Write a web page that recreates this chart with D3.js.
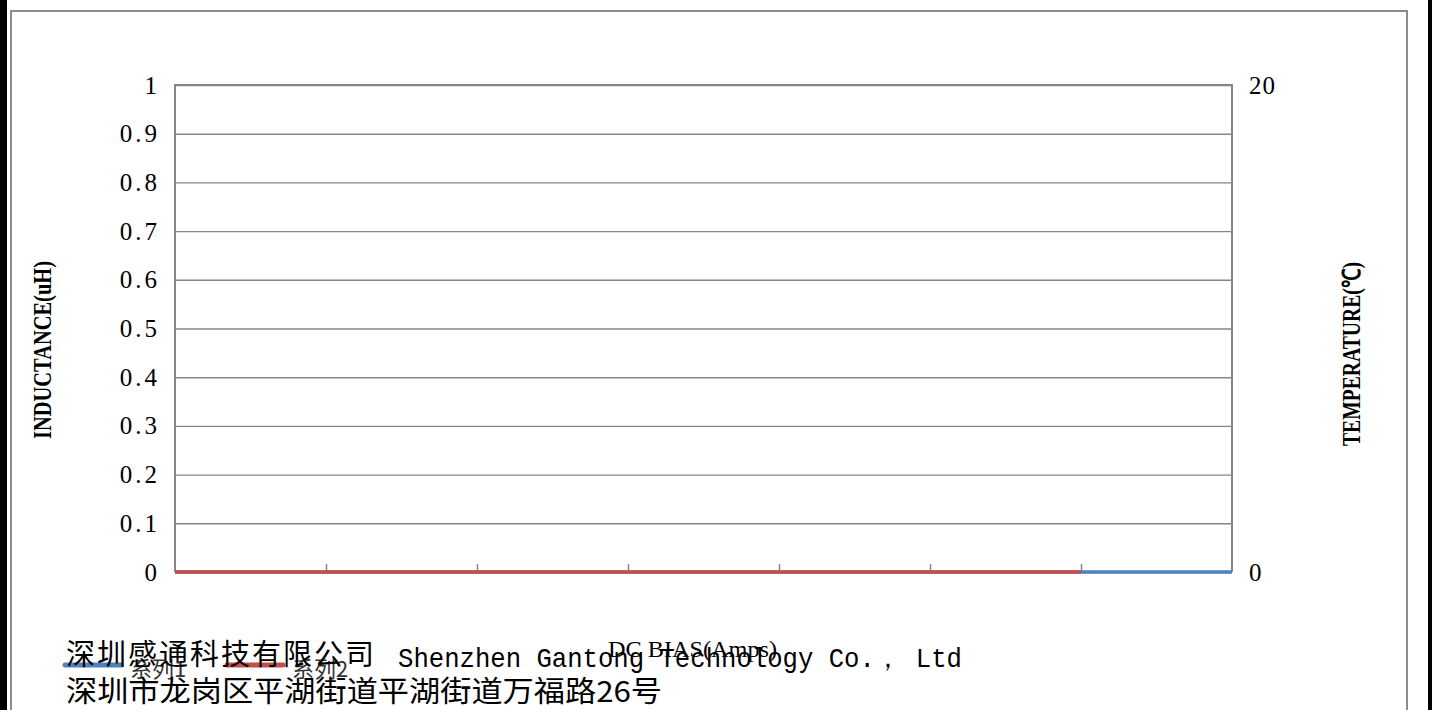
<!DOCTYPE html>
<html>
<head>
<meta charset="utf-8">
<script src="https://cdn.jsdelivr.net/npm/d3@7"></script>
<style>
  body { margin: 0; background: #fff; }
  svg { display: block; }
</style>
</head>
<body>
<div id="chart"></div>
<script>
var svgWidth = 1432;
var svgHeight = 710;

// data
var xCategories = [0, 1, 2, 3, 4, 5, 6, 7];
var series1Temp = [0, 0, 0, 0, 0, 0, 0, 0];      // 系列1, right axis (°C)
var series2Induct = [0, 0, 0, 0, 0, 0, 0];       // 系列2, left axis (uH)
var leftTicks = [0, 0.1, 0.2, 0.3, 0.4, 0.5, 0.6, 0.7, 0.8, 0.9, 1];
var rightTicks = [0, 20];
var seriesNames = ["系列1", "系列2"];

var plot = { left: 175, right: 1232, top: 85, bottom: 572 };

var svg = d3.select("#chart")
  .append("svg")
  .attr("width", svgWidth)
  .attr("height", svgHeight);

// page frame bits
svg.append("rect").attr("x", 0).attr("y", 0).attr("width", 7).attr("height", svgHeight).attr("fill", "#000");
svg.append("rect").attr("x", 1428).attr("y", 0).attr("width", 4).attr("height", svgHeight).attr("fill", "#000");
svg.append("rect")
  .attr("x", 11).attr("y", 11)
  .attr("width", 1396).attr("height", svgHeight + 20)
  .attr("fill", "none")
  .attr("stroke", "#8c8c8c")
  .attr("stroke-width", 2);

var xScale = d3.scaleLinear()
  .domain([0, 7])
  .range([plot.left, plot.right]);

var yLeft = d3.scaleLinear()
  .domain([0, 1])
  .range([plot.bottom, plot.top]);

var yRight = d3.scaleLinear()
  .domain([0, 20])
  .range([plot.bottom, plot.top]);

// gridlines
var grid = svg.append("g")
  .attr("transform", `translate(${plot.left},0)`)
  .call(d3.axisLeft(yLeft).tickValues(leftTicks).tickSize(-(plot.right - plot.left)).tickFormat(""));
grid.select(".domain").remove();
grid.selectAll("line").attr("stroke", "#868686").attr("stroke-width", 1.4);

// plot border
svg.append("path")
  .attr("d", `M${plot.left},${plot.bottom}V${plot.top}H${plot.right}V${plot.bottom}`)
  .attr("fill", "none")
  .attr("stroke", "#868686")
  .attr("stroke-width", 2);

// left tick labels
var leftAxis = svg.append("g")
  .attr("transform", `translate(${plot.left},0)`)
  .call(d3.axisLeft(yLeft).tickValues(leftTicks).tickSize(0).tickPadding(18)
    .tickFormat(d => d3.format(".1~f")(d)));
leftAxis.select(".domain").remove();
leftAxis.selectAll("text")
  .attr("font-family", "Liberation Serif")
  .attr("font-size", 25)
  .attr("letter-spacing", 3)
  .attr("dx", 3)
  .attr("fill", "#000");

// right tick labels
var rightAxis = svg.append("g")
  .attr("transform", `translate(${plot.right},0)`)
  .call(d3.axisRight(yRight).tickValues(rightTicks).tickSize(0).tickPadding(17));
rightAxis.select(".domain").remove();
rightAxis.selectAll("text")
  .attr("font-family", "Liberation Serif")
  .attr("font-size", 25)
  .attr("letter-spacing", 1)
  .attr("fill", "#000");

// category ticks pointing up from the axis
var bottomAxis = svg.append("g")
  .attr("transform", `translate(0,${plot.bottom})`)
  .call(d3.axisBottom(xScale).tickValues(xCategories.slice(1, -1)).tickSize(-8).tickFormat(""));
bottomAxis.select(".domain").remove();
bottomAxis.selectAll("line").attr("stroke", "#868686").attr("stroke-width", 1.5);

// series lines
var line1 = d3.line()
  .x((d, i) => xScale(xCategories[i]))
  .y(d => yRight(d));
var line2 = d3.line()
  .x((d, i) => xScale(xCategories[i]))
  .y(d => yLeft(d));

svg.append("path")
  .datum(series1Temp)
  .attr("d", line1)
  .attr("fill", "none")
  .attr("stroke", "#4f81bd")
  .attr("stroke-width", 3.5);

svg.append("path")
  .datum(series2Induct)
  .attr("d", line2)
  .attr("fill", "none")
  .attr("stroke", "#c0504d")
  .attr("stroke-width", 3.5);

// axis titles
svg.append("text")
  .attr("transform", "translate(51,350) rotate(-90)")
  .attr("text-anchor", "middle")
  .attr("font-family", "Liberation Serif")
  .attr("font-weight", "bold")
  .attr("font-size", 26)
  .attr("textLength", 178)
  .attr("lengthAdjust", "spacingAndGlyphs")
  .text("INDUCTANCE(uH)");

svg.append("text")
  .attr("transform", "translate(1360,354) rotate(-90)")
  .attr("text-anchor", "middle")
  .attr("font-family", "Liberation Serif")
  .attr("font-weight", "bold")
  .attr("font-size", 25)
  .attr("textLength", 184)
  .attr("lengthAdjust", "spacingAndGlyphs")
  .text("TEMPERATURE(℃)");

svg.append("text")
  .attr("x", 608)
  .attr("y", 657)
  .attr("font-family", "Liberation Serif")
  .attr("font-size", 24)
  .attr("textLength", 169)
  .attr("lengthAdjust", "spacingAndGlyphs")
  .text("DC BIAS(Amps)");

// legend
var legendX = [65, 227];
var legendColors = ["#4f81bd", "#c0504d"];
seriesNames.forEach(function(name, i) {
  svg.append("line")
    .attr("x1", legendX[i]).attr("x2", legendX[i] + 56)
    .attr("y1", 665).attr("y2", 665)
    .attr("stroke", legendColors[i])
    .attr("stroke-width", 5)
    .attr("stroke-linecap", "round");
  svg.append("text")
    .attr("x", legendX[i] + 65)
    .attr("y", 677)
    .attr("font-family", "Noto Sans CJK SC")
    .attr("font-size", 22)
    .attr("fill", "#333")
    .text(name);
});

// company text on top
svg.append("text")
  .attr("x", 66)
  .attr("y", 665)
  .attr("font-family", "Noto Sans CJK SC")
  .attr("font-size", 29)
  .attr("letter-spacing", 2)
  .text("深圳感通科技有限公司");

svg.append("text")
  .attr("x", 398)
  .attr("y", 667)
  .attr("font-family", "Liberation Mono")
  .attr("font-size", 28)
  .attr("textLength", 564)
  .attr("lengthAdjust", "spacingAndGlyphs")
  .text("Shenzhen Gantong Technology Co.， Ltd");

svg.append("text")
  .attr("x", 66)
  .attr("y", 702)
  .attr("font-family", "Noto Sans CJK SC")
  .attr("font-size", 29)
  .attr("textLength", 596)
  .attr("lengthAdjust", "spacingAndGlyphs")
  .text("深圳市龙岗区平湖街道平湖街道万福路26号");
</script>
</body>
</html>
